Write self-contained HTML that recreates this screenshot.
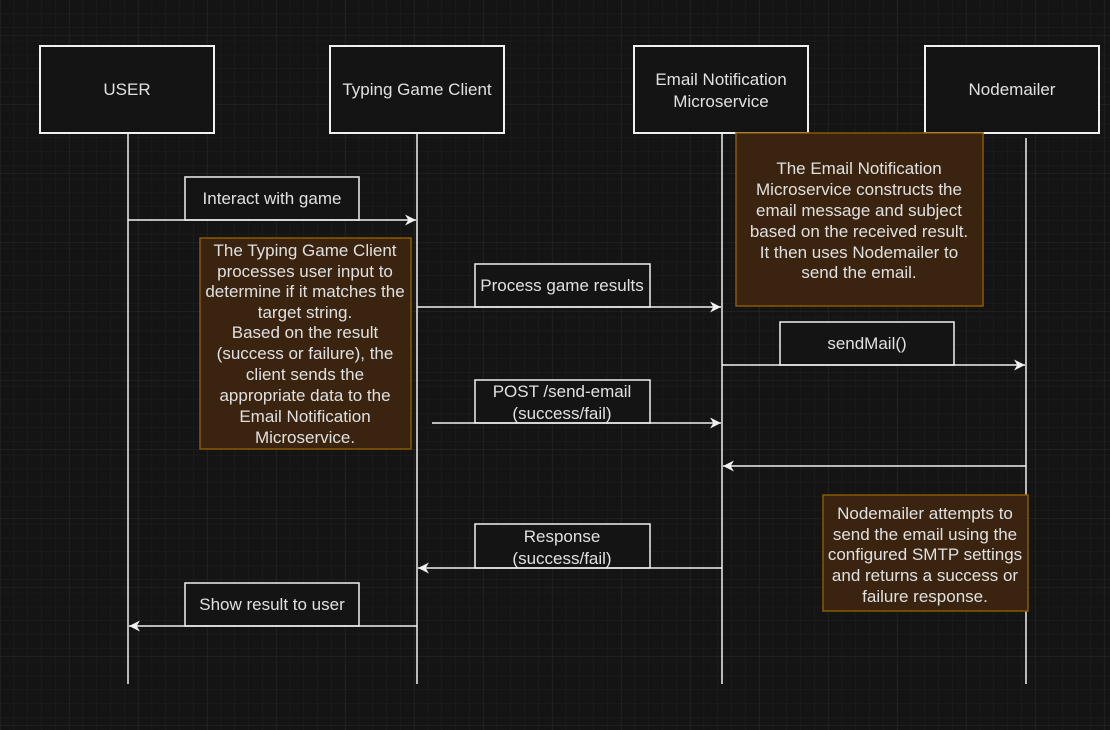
<!DOCTYPE html>
<html><head><meta charset="utf-8"><style>
html,body{margin:0;padding:0;background:#141414;}
svg{display:block}
text{font-family:"Liberation Sans",Arial,sans-serif;fill:#e0e0e0;font-size:17px;text-anchor:middle}
</style></head><body>
<svg width="1110" height="730" xmlns="http://www.w3.org/2000/svg">
<defs>
<pattern id="minor" x="-0.2" y="-0.5" width="13.8" height="13.8" patternUnits="userSpaceOnUse">
<path d="M0 0V13.8M0 0H13.8" stroke="#1f1f1f" stroke-width="1" fill="none"/>
</pattern>
<pattern id="major" x="0" y="35" width="69" height="69" patternUnits="userSpaceOnUse">
<path d="M0 0V69M0 0H69" stroke="#2a2a2a" stroke-width="1" fill="none"/>
</pattern>
<marker id="ah" viewBox="0 0 10 10" refX="10" refY="5" markerWidth="11" markerHeight="11" markerUnits="userSpaceOnUse" orient="auto">
<path d="M0 0L10 5L0 10L3 5Z" fill="#f0f0f0"/>
</marker>
</defs>
<rect width="1110" height="730" fill="#141414"/>
<rect width="1110" height="730" fill="url(#minor)"/>
<rect width="1110" height="730" fill="url(#major)"/>

<g stroke="#f0f0f0" stroke-width="1.5" fill="none">
<line x1="128" y1="133" x2="128" y2="684"/>
<line x1="417" y1="133" x2="417" y2="684"/>
<line x1="722" y1="133" x2="722" y2="684"/>
<line x1="1026" y1="138" x2="1026" y2="684"/>
</g>

<g stroke="#f0f0f0" stroke-width="2" fill="#141414">
<rect x="40" y="46" width="174" height="87"/>
<rect x="330" y="46" width="174" height="87"/>
<rect x="634" y="46" width="174" height="87"/>
<rect x="925" y="46" width="174" height="87"/>
</g>
<text x="127" y="95">USER</text>
<text x="417" y="95">Typing Game Client</text>
<text x="721" y="85">Email Notification</text>
<text x="721" y="107">Microservice</text>
<text x="1012" y="95">Nodemailer</text>

<g stroke="#f0f0f0" stroke-width="1.5" fill="#141414">
<rect x="185" y="177" width="174" height="43"/>
<rect x="475" y="264" width="175" height="43"/>
<rect x="475" y="380" width="175" height="43"/>
<rect x="780" y="322" width="174" height="43"/>
<rect x="475" y="524" width="175" height="44"/>
<rect x="185" y="583" width="174" height="43"/>
</g>
<text x="272" y="204">Interact with game</text>
<text x="562" y="291">Process game results</text>
<text x="562" y="397">POST /send-email</text>
<text x="562" y="419">(success/fail)</text>
<text x="867" y="349">sendMail()</text>
<text x="562" y="542">Response</text>
<text x="562" y="564">(success/fail)</text>
<text x="272" y="610">Show result to user</text>

<g stroke="#f0f0f0" stroke-width="1.5" fill="none" marker-end="url(#ah)">
<line x1="128" y1="220" x2="416" y2="220"/>
<line x1="417" y1="307" x2="721" y2="307"/>
<line x1="432" y1="423" x2="721" y2="423"/>
<line x1="722" y1="365" x2="1025" y2="365"/>
<line x1="1026" y1="466" x2="723" y2="466"/>
<line x1="722" y1="568" x2="418" y2="568"/>
<line x1="417" y1="626" x2="129" y2="626"/>
</g>

<g fill="#3a2410" stroke="#8a5a00" stroke-width="1.5">
<rect x="736" y="133" width="247" height="173"/>
<rect x="200" y="238" width="211" height="211"/>
<rect x="823" y="495" width="205" height="116"/>
</g>
<g style="fill:#d8d8d8">
<text x="859" y="174">The Email Notification</text>
<text x="859" y="195">Microservice constructs the</text>
<text x="859" y="216">email message and subject</text>
<text x="859" y="237">based on the received result.</text>
<text x="859" y="258">It then uses Nodemailer to</text>
<text x="859" y="278">send the email.</text>

<text x="305" y="256">The Typing Game Client</text>
<text x="305" y="277">processes user input to</text>
<text x="305" y="297">determine if it matches the</text>
<text x="305" y="318">target string.</text>
<text x="305" y="338">Based on the result</text>
<text x="305" y="359">(success or failure), the</text>
<text x="305" y="380">client sends the</text>
<text x="305" y="401">appropriate data to the</text>
<text x="305" y="422">Email Notification</text>
<text x="305" y="443">Microservice.</text>

<text x="925" y="519">Nodemailer attempts to</text>
<text x="925" y="540">send the email using the</text>
<text x="925" y="560">configured SMTP settings</text>
<text x="925" y="581">and returns a success or</text>
<text x="925" y="602">failure response.</text>
</g>
</svg>
</body></html>
